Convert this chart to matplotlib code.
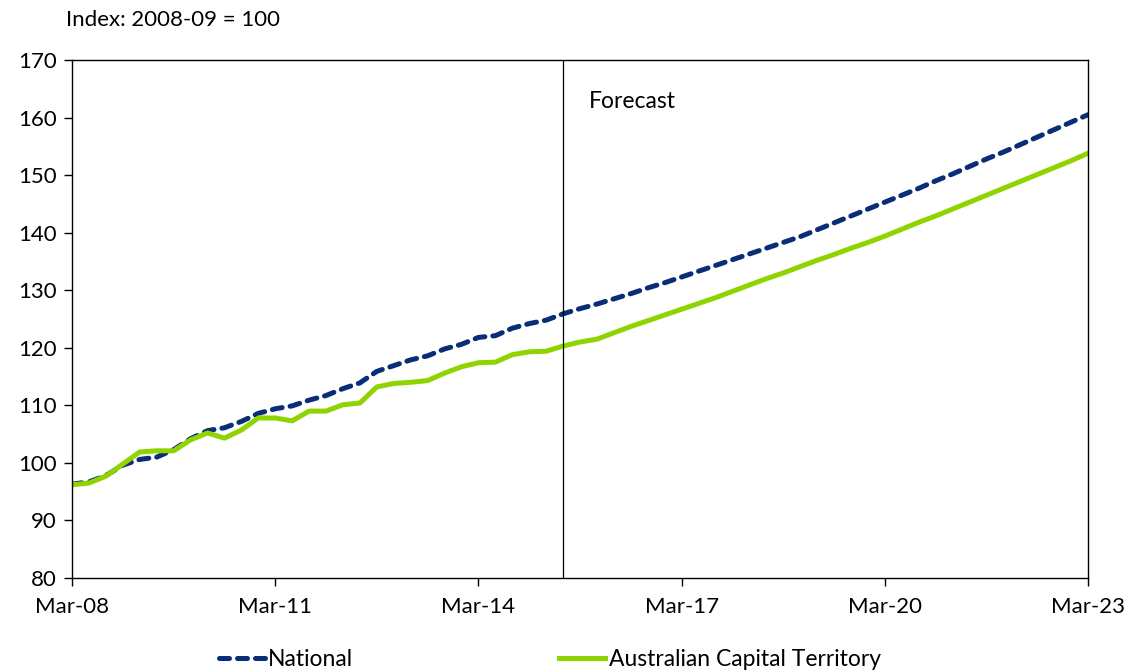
import matplotlib.pyplot as plt
import numpy as np

plt.rcParams['font.family'] = ['Lato', 'DejaVu Sans']

# quarterly index, Mar-08 .. Mar-23
tick_labels = ['Mar-08', 'Mar-11', 'Mar-14', 'Mar-17', 'Mar-20', 'Mar-23']

national = [96.3, 96.7, 97.8, 99.6, 100.6, 101.0, 102.3, 104.2, 105.6, 106.1,
            107.2, 108.6, 109.4, 109.9, 110.9, 111.7, 112.9, 113.9, 115.9, 116.9,
            117.9, 118.6, 119.8, 120.6, 121.8, 122.1, 123.4, 124.2, 124.8, 125.9,
            126.8, 127.6, 128.5, 129.4, 130.4, 131.3, 132.3, 133.3, 134.3, 135.3,
            136.3, 137.3, 138.3, 139.3, 140.5, 141.7, 142.9, 144.1, 145.3, 146.5,
            147.7, 149.0, 150.2, 151.5, 152.8, 154.0, 155.3, 156.6, 157.9, 159.2,
            160.5]

act = [96.2, 96.5, 97.7, 99.8, 101.9, 102.1, 102.1, 104.0, 105.2, 104.3,
       105.7, 107.8, 107.8, 107.3, 109.0, 109.0, 110.1, 110.4, 113.2, 113.8,
       114.0, 114.3, 115.6, 116.7, 117.4, 117.5, 118.8, 119.3, 119.4, 120.3,
       121.0, 121.5, 122.6, 123.7, 124.7, 125.7, 126.7, 127.7, 128.7, 129.8,
       130.9, 132.0, 133.0, 134.1, 135.2, 136.2, 137.3, 138.3, 139.4, 140.6,
       141.8, 142.9, 144.1, 145.3, 146.5, 147.7, 148.9, 150.1, 151.3, 152.5,
       153.8]

forecast_start = 29  # Jun-15

x = np.arange(len(national))

fig = plt.figure(figsize=(11.31, 6.72), dpi=100)
ax = fig.add_axes([0.0637, 0.1399, 0.8983, 0.7708])

ax.plot(x, national, color='#0a2d78', lw=3.6, ls=(0, (2.0, 1.6)),
        dash_capstyle='round', label='National')
ax.plot(x, act, color='#8fd400', lw=3.6, label='Australian Capital Territory')

ax.axvline(forecast_start, color='black', lw=0.9)
ax.text(forecast_start + 1.55, 162.8, 'Forecast', fontsize=16.5, va='center', ha='left')

ax.set_xlim(0, len(national) - 1)
ax.set_ylim(80, 170)
ax.set_yticks(np.arange(80, 171, 10))
ax.set_xticks(np.arange(0, len(national), 12))
ax.set_xticklabels(tick_labels)
ax.tick_params(axis='both', labelsize=16, direction='out', length=6, width=1)
ax.tick_params(axis='x', pad=8)
ax.tick_params(axis='y', pad=5)
for s in ax.spines.values():
    s.set_linewidth(1.0)

fig.text(0.058, 0.97, 'Index: 2008-09 = 100', fontsize=16, va='center', ha='left')

fig.legend(loc='center', bbox_to_anchor=(0.486, 0.018), ncol=2, frameon=False,
           fontsize=16.5, handlelength=2.0, handletextpad=0.15, columnspacing=9.0)

fig.savefig('out.png', dpi=100)
